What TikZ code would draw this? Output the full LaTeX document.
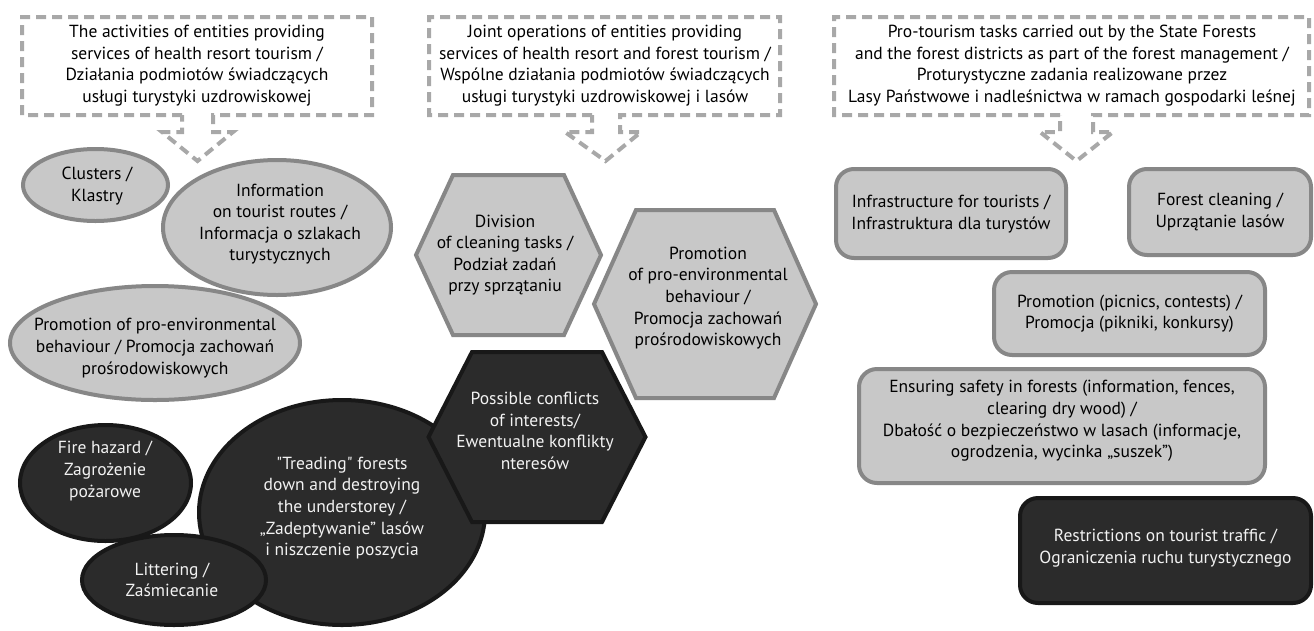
\documentclass[tikz,border=0pt]{standalone}
\usepackage{fontspec}
\setmainfont{PT Sans}
\usetikzlibrary{shapes.geometric,calc}
\definecolor{lfill}{HTML}{C8C8C8}
\definecolor{lline}{HTML}{878787}
\definecolor{dfill}{HTML}{2B2B2B}
\definecolor{dline}{HTML}{181818}
\definecolor{dashc}{HTML}{A8A8A8}
\definecolor{dtext}{HTML}{F2F2F2}
\tikzset{
  txt/.style={font=\fontsize{17.5}{21.6}\selectfont, align=center, inner sep=0pt},
  dtxt/.style={txt, text=dtext},
  lightell/.style={ellipse, draw=lline, fill=lfill, line width=4pt, inner sep=0pt},
  darkell/.style={ellipse, draw=dline, fill=dfill, line width=4pt, inner sep=0pt},
  lightbox/.style={rectangle, rounded corners=18pt, draw=lline, fill=lfill, line width=4pt, inner sep=0pt},
  darkbox/.style={rectangle, rounded corners=18pt, draw=dline, fill=dfill, line width=4pt, inner sep=0pt},
  lighthex/.style={draw=lline, fill=lfill, line width=4pt, line join=miter},
  darkhex/.style={draw=dline, fill=dfill, line width=4pt, line join=miter},
  callout/.style={draw=dashc, line width=4pt, dash pattern=on 10pt off 6pt},
}
% hexagon: #1 name, #2 cx, #3 cy, #4 half width, #5 half top edge, #6 half height, #7 style
\newcommand{\myhex}[7]{%
  \coordinate (#1) at (#2,#3);
  \draw[#7] ($(#1)+(-#4,0)$) -- ($(#1)+(-#5,-#6)$) -- ($(#1)+(#5,-#6)$) --
    ($(#1)+(#4,0)$) -- ($(#1)+(#5,#6)$) -- ($(#1)+(-#5,#6)$) -- cycle;}
\begin{document}
\begin{tikzpicture}[x=1pt,y=-1pt]
\useasboundingbox (0,0) rectangle (1314,630);
\fill[white] (0,0) rectangle (1314,630);

% ---- callouts
\coordinate (t1) at (197.5,161);
\draw[callout] (182,115) -- (22,115) -- (22,17) -- (372,17) -- (372,115) -- (213,115)
  -- (213,132) -- (233,132) -- (t1) -- (162,132) -- (182,132) -- cycle;
\node[txt] (c1) at (197,65.5) {The activities of entities providing\\services of health resort tourism /\\Działania podmiotów świadczących\\usługi turystyki uzdrowiskowej};

\coordinate (t2) at (605.5,161);
\draw[callout] (592,115) -- (429,115) -- (429,17) -- (780,17) -- (780,115) -- (620,115)
  -- (620,132) -- (641,132) -- (t2) -- (565,132) -- (592,132) -- cycle;
\node[txt] (c2) at (605,65.5) {Joint operations of entities providing\\services of health resort and forest tourism /\\Wspólne działania podmiotów świadczących\\usługi turystyki uzdrowiskowej i lasów};

\coordinate (t3) at (1076.5,161);
\draw[callout] (1060,115) -- (834,115) -- (834,17) -- (1309,17) -- (1309,115) -- (1093,115)
  -- (1093,132) -- (1113,132) -- (t3) -- (1040,132) -- (1060,132) -- cycle;
\node[txt] (c3) at (1072,65.5) {Pro-tourism tasks carried out by the State Forests\\and the forest districts as part of the forest management /\\Proturystyczne zadania realizowane przez\\Lasy Państwowe i nadleśnictwa w ramach gospodarki leśnej};

% ---- light ellipses
\node[lightell, minimum width=145pt, minimum height=72pt] (clu) at (95.5,185) {};
\node[txt] (clu-t) at (97,186) {Clusters /\\Klastry};
\node[lightell, minimum width=290pt, minimum height=114pt] (pro) at (155,343) {};
\node[txt] (pro-t) at (155,348) {Promotion of pro-environmental\\behaviour / Promocja zachowań\\prośrodowiskowych};
\node[lightell, minimum width=228pt, minimum height=135pt] (inf) at (277,227.5) {};
\node[txt] (inf-t) at (280,224) {Information\\on tourist routes /\\Informacja o szlakach\\turystycznych};

% ---- dark ellipses
\node[darkell, minimum width=171pt, minimum height=116pt] (fir) at (105.5,483) {};
\node[dtxt] (fir-t) at (105,471) {Fire hazard /\\Zagrożenie\\pożarowe};
\node[darkell, minimum width=286pt, minimum height=225pt] (tre) at (342,512.5) {};
\node[dtxt] (tre-t) at (342,508) {\textquotedbl Treading\textquotedbl{} forests\\down and destroying\\the understorey /\\„Zadeptywanie” lasów\\i niszczenie poszycia};
\node[darkell, minimum width=184pt, minimum height=90pt] (lit) at (174,580) {};
\node[dtxt] (lit-t) at (172,580) {Littering /\\Zaśmiecanie};

% ---- hexagons
\myhex{hd}{508.5}{255}{92.5}{55.5}{80}{lighthex}
\node[txt] (hd-t) at (505,255) {Division\\of cleaning tasks /\\Podział zadań\\przy sprzątaniu};
\myhex{hp}{705}{304}{111}{69}{94}{lighthex}
\node[txt] (hp-t) at (708,298) {Promotion\\of pro-environmental\\behaviour /\\Promocja zachowań\\prośrodowiskowych};
\myhex{hc}{537}{437}{108.5}{65}{85}{darkhex}
\node[dtxt] (hc-t) at (535,431) {Possible conflicts\\of interests/\\Ewentualne konflikty\\nteresów};

% ---- rounded boxes
\node[lightbox, minimum width=230pt, minimum height=89pt] (infr) at (951,213.5) {};
\node[txt] (infr-t) at (951,214) {Infrastructure for tourists /\\Infrastruktura dla turystów};
\node[lightbox, minimum width=182pt, minimum height=86pt] (for) at (1220,212) {};
\node[txt] (for-t) at (1220,212) {Forest cleaning /\\Uprzątanie lasów};
\node[lightbox, minimum width=271pt, minimum height=83pt] (pic) at (1129.5,313.5) {};
\node[txt] (pic-t) at (1129.5,313.5) {Promotion (picnics, contests) /\\Promocja (pikniki, konkursy)};
\node[lightbox, minimum width=406pt, minimum height=114pt] (ens) at (1062,426) {};
\node[txt] (ens-t) at (1062,421) {Ensuring safety in forests (information, fences,\\clearing dry wood) /\\Dbałość o bezpieczeństwo w lasach (informacje,\\ogrodzenia, wycinka „suszek”)};
\node[darkbox, minimum width=291pt, minimum height=105pt] (res) at (1165.5,550.5) {};
\node[dtxt] (res-t) at (1165.5,548) {Restrictions on tourist traffic /\\Ograniczenia ruchu turystycznego};
\end{tikzpicture}
\end{document}
